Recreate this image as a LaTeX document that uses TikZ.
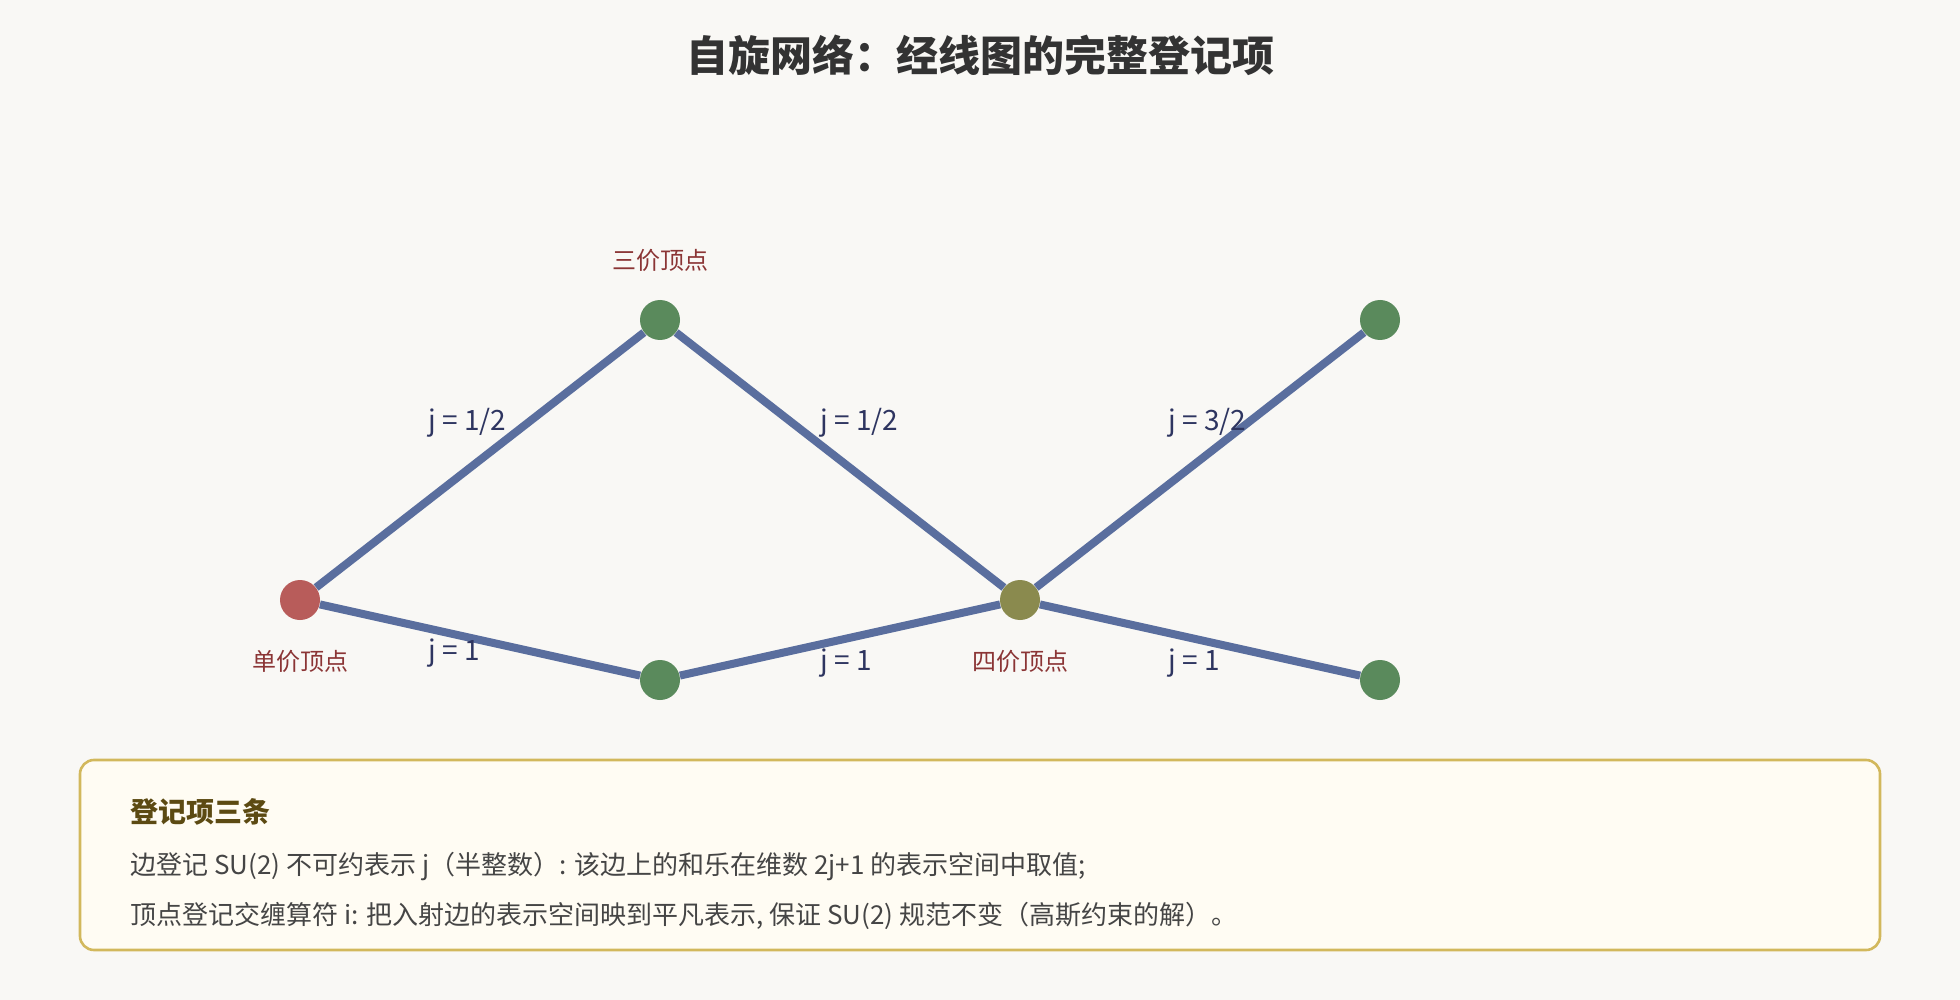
\documentclass[tikz,border=0pt]{standalone}
\usepackage{fontspec}
\setmainfont{Noto Sans CJK SC}
\usepackage{tikz}
\usepackage{xcolor}
\usetikzlibrary{positioning}

\definecolor{bgcol}{HTML}{F9F8F5}
\definecolor{edgecol}{HTML}{5A6E9E}
\definecolor{greencol}{HTML}{5A8A5C}
\definecolor{redcol}{HTML}{B85C5A}
\definecolor{olivecol}{HTML}{8A8A4E}
\definecolor{vlabcol}{HTML}{8B3535}
\definecolor{jlabcol}{HTML}{2E3560}
\definecolor{boxline}{HTML}{D2B85C}
\definecolor{boxfill}{HTML}{FFFCF3}
\definecolor{boxhead}{HTML}{5C4A12}

\begin{document}
\begin{tikzpicture}[x=1pt, y=-1pt,
    vert/.style={circle, minimum size=20pt, inner sep=0pt},
    spin/.style={edgecol, line width=4pt},
    jlab/.style={anchor=base west, inner sep=0pt, text=jlabcol, font=\fontsize{14}{16}\selectfont},
    vlab/.style={anchor=base, inner sep=0pt, text=vlabcol, font=\fontsize{12}{14}\selectfont},
    boxtext/.style={anchor=base west, inner sep=0pt, text=black!73, font=\fontsize{13}{15}\selectfont}]
                        \fill[bgcol] (0,0) rectangle (980,500);
                        \node[anchor=base, inner sep=0pt, text=black!80, font=\fontsize{21}{24}\bfseries] (title) at (490,36) {自旋网络：经线图的完整登记项};

                        % vertices
                        \node[vert, fill=redcol] (v1) at (150,300) {};
                        \node[vert, fill=greencol] (v2) at (330,160) {};
                        \node[vert, fill=greencol] (v3) at (330,340) {};
                        \node[vert, fill=olivecol] (v4) at (510,300) {};
                        \node[vert, fill=greencol] (v5) at (690,160) {};
                        \node[vert, fill=greencol] (v6) at (690,340) {};

                        \draw
                        (v1) edge[spin] (v2)
                        (v1) edge[spin] (v3)
                        (v2) edge[spin] (v4)
                        (v3) edge[spin] (v4)
                        (v4) edge[spin] (v5)
                        (v4) edge[spin] (v6);

                        % spin labels
                        \node[jlab] (j12) at (214,215) {j = 1/2};
                        \node[jlab] (j24) at (410,215) {j = 1/2};
                        \node[jlab] (j45) at (584,215) {j = 3/2};
                        \node[jlab] (j13) at (214,330) {j = 1};
                        \node[jlab] (j34) at (410,335) {j = 1};
                        \node[jlab] (j46) at (584,335) {j = 1};

                        \node[vlab] (t2) at (330,135) {三价顶点};
                        \node[vlab] (t1) at (150,335) {单价顶点};
                        \node[vlab] (t4) at (510,335) {四价顶点};

                        % legend box
                        \draw[boxline, fill=boxfill, line width=1.3pt, rounded corners=7pt] (40,380) rectangle (940,475);
                        \node[anchor=base west, inner sep=0pt, text=boxhead, font=\fontsize{14}{16}\bfseries] (bh) at (65,411) {登记项三条};
                        \node[boxtext] (b1) at (65,437) {边登记 SU(2) 不可约表示 j（半整数）: 该边上的和乐在维数 2j+1 的表示空间中取值;};
                        \node[boxtext] (b2) at (65,462) {顶点登记交缠算符 i: 把入射边的表示空间映到平凡表示, 保证 SU(2) 规范不变（高斯约束的解）。};
                    \end{tikzpicture}
\end{document}
